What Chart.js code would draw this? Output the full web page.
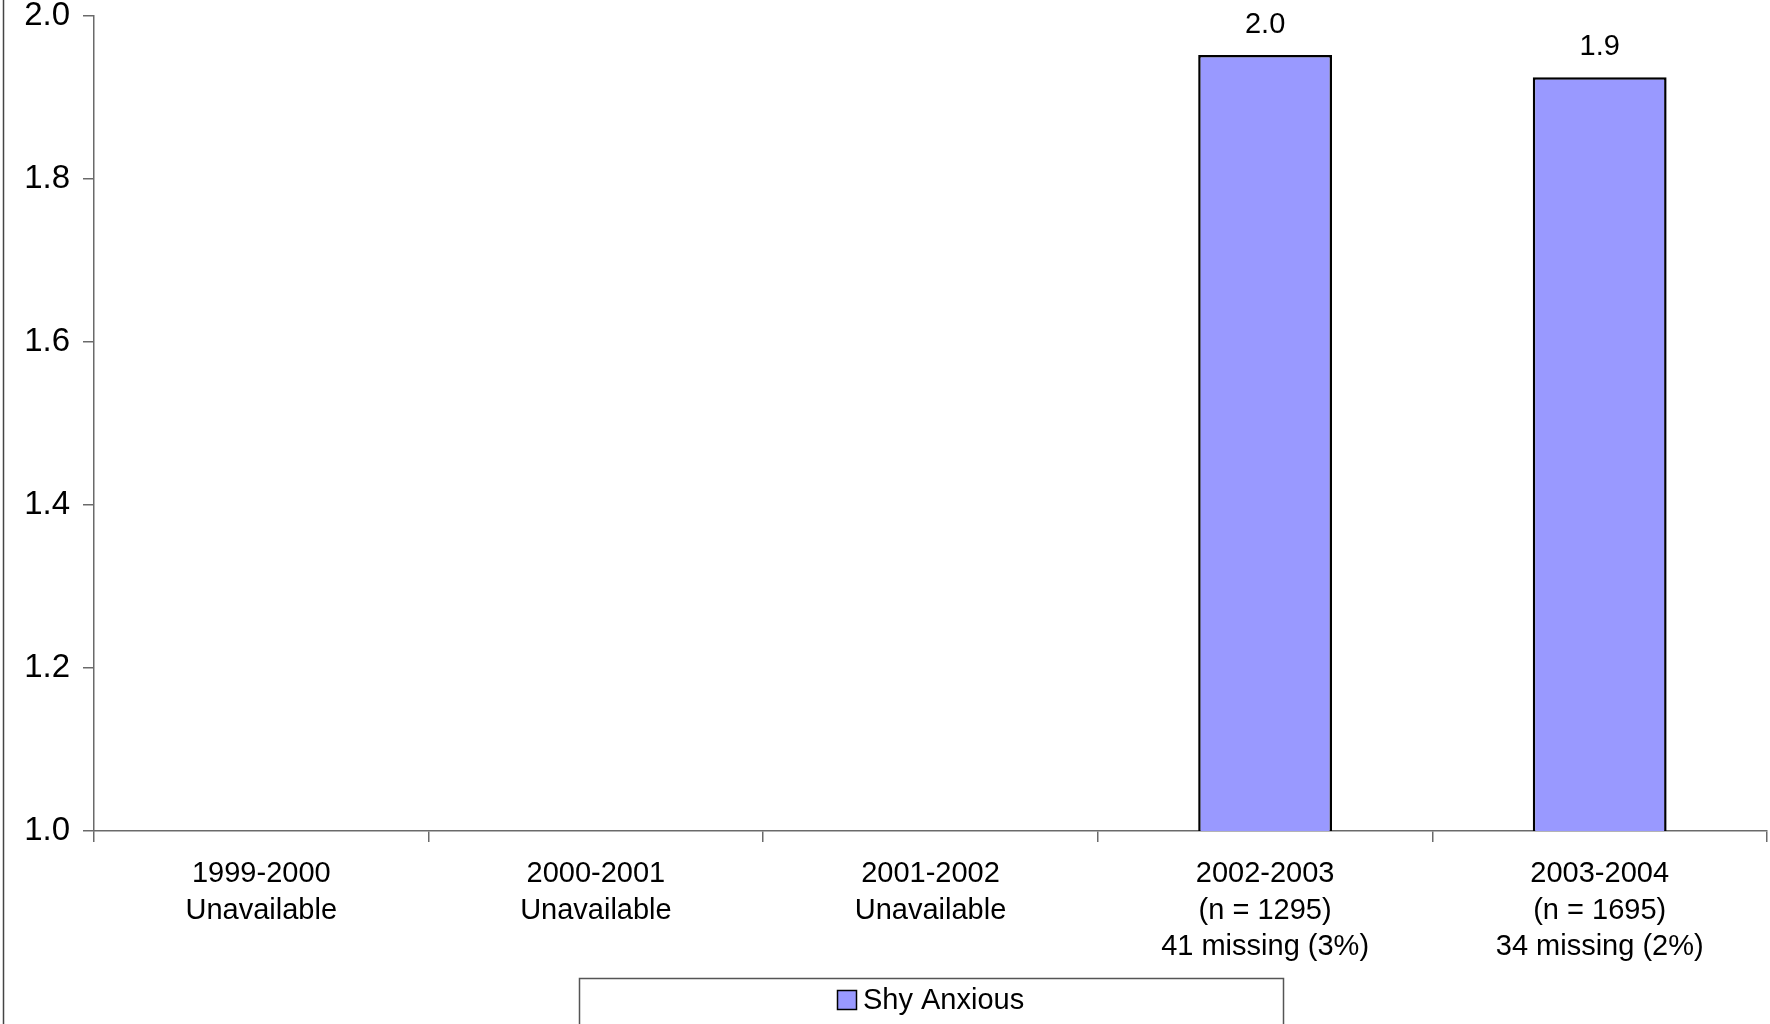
<!DOCTYPE html>
<html>
<head>
<meta charset="utf-8">
<script src="https://cdn.jsdelivr.net/npm/chart.js@4/dist/chart.umd.min.js"></script>
<style>
  html, body { margin: 0; padding: 0; background: #ffffff; }
  #wrap { width: 1770px; height: 1024px; position: relative; }
</style>
</head>
<body>
<div id="wrap"><canvas id="c" width="1770" height="1024"></canvas></div>
<script>
const categories = [
  ["1999-2000", "Unavailable"],
  ["2000-2001", "Unavailable"],
  ["2001-2002", "Unavailable"],
  ["2002-2003", "(n = 1295)", "41 missing (3%)"],
  ["2003-2004", "(n = 1695)", "34 missing (2%)"]
];
const seriesName = "Shy Anxious";
const shyAnxious = [null, null, null, 1.952, 1.925];
const yTicks = [1.0, 1.2, 1.4, 1.6, 1.8, 2.0];

const FONT = "'Liberation Sans', Arial, sans-serif";
const AXIS = "#6a6a6a";
const BAR_FILL = '#9999ff';

const frame = {
  id: 'frame',
  beforeDraw(chart) {
    const ctx = chart.ctx;
    ctx.save();
    ctx.fillStyle = '#ffffff';
    ctx.fillRect(0, 0, chart.width, chart.height);
    ctx.strokeStyle = '#444';
    ctx.lineWidth = 1.5;
    ctx.beginPath();
    ctx.moveTo(3.5, 0);
    ctx.lineTo(3.5, chart.height);
    ctx.stroke();
    ctx.restore();
  },
  afterDraw(chart) {
    const ctx = chart.ctx;
    const ca = chart.chartArea;
    ctx.save();
    // value labels above bars
    ctx.font = "29px " + FONT;
    ctx.fillStyle = '#000';
    ctx.textAlign = 'center';
    ctx.textBaseline = 'middle';
    chart.getDatasetMeta(0).data.forEach((el, i) => {
      const v = shyAnxious[i];
      if (v === null || v === undefined) return;
      ctx.fillText(v.toFixed(1), el.x, el.y - 30);
    });
    // legend (framed, centred under plot area)
    const cx = (ca.left + ca.right) / 2;
    const cy = ca.bottom + 169;
    ctx.strokeStyle = '#555';
    ctx.lineWidth = 1.5;
    ctx.strokeRect(Math.round(cx - 352) + 0.5, Math.round(cy - 22.5) + 0.5, 704, 80);
    const ds = chart.data.datasets[0];
    ctx.font = "29px " + FONT;
    const tw = ctx.measureText(ds.label).width;
    const total = 20 + 6 + tw;
    const x0 = Math.round(cx - total / 2);
    ctx.fillStyle = ds.backgroundColor;
    ctx.fillRect(x0, cy - 10, 20, 20);
    ctx.strokeStyle = '#000';
    ctx.lineWidth = 1.5;
    ctx.strokeRect(x0 + 0.5, cy - 10 + 0.5, 19, 19);
    ctx.fillStyle = '#000';
    ctx.textAlign = 'left';
    ctx.textBaseline = 'middle';
    ctx.fillText(ds.label, x0 + 26, cy + 1);
    ctx.restore();
  }
};

new Chart(document.getElementById('c'), {
  type: 'bar',
  data: {
    labels: categories,
    datasets: [{
      label: seriesName,
      data: shyAnxious,
      backgroundColor: BAR_FILL,
      borderColor: '#000000',
      borderWidth: 2.5,
      borderSkipped: 'bottom',
      categoryPercentage: 1.0,
      barPercentage: 0.4
    }]
  },
  options: {
    responsive: false,
    animation: false,
    devicePixelRatio: 1,
    layout: { autoPadding: false, padding: { top: 16, right: 3, bottom: 47, left: 0 } },
    plugins: {
      legend: { display: false },
      tooltip: { enabled: false }
    },
    scales: {
      x: {
        grid: { offset: true, drawOnChartArea: false, drawTicks: true, tickLength: 11, color: AXIS, lineWidth: 1.5 },
        border: { display: true, color: AXIS, width: 1.5 },
        ticks: { font: { family: FONT, size: 29, lineHeight: 1.26 }, color: '#000', padding: 14, maxRotation: 0, autoSkip: false },
        afterFit: (s) => { s.height = 146; s.paddingLeft = 0; s.paddingRight = 0; }
      },
      y: {
        min: yTicks[0],
        max: yTicks[yTicks.length - 1],
        afterBuildTicks: (s) => { s.ticks = yTicks.map(v => ({ value: v })); },
        ticks: { font: { family: FONT, size: 33, lineHeight: 0.96 }, color: '#000', padding: 13, callback: (v) => Number(v).toFixed(1) },
        grid: { drawOnChartArea: false, drawTicks: true, tickLength: 11, color: AXIS, lineWidth: 1.5 },
        border: { display: true, color: AXIS, width: 1.5 },
        afterFit: (s) => { s.width = 94; s.paddingTop = 0; s.paddingBottom = 0; }
      }
    }
  },
  plugins: [frame]
});
</script>
</body>
</html>
